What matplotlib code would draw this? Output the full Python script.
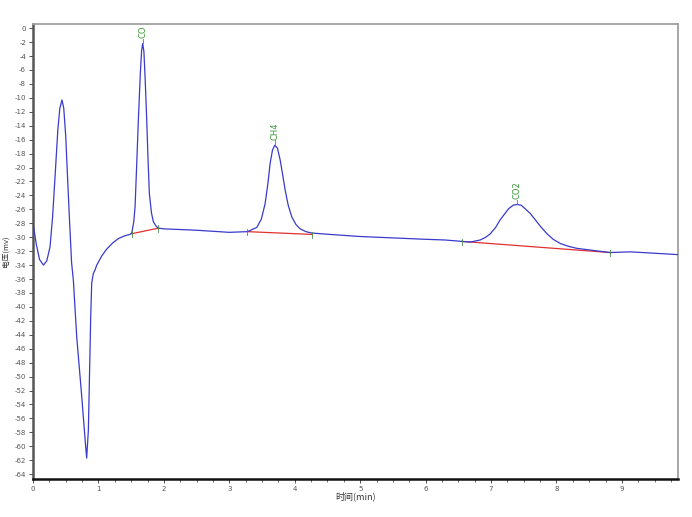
import matplotlib
matplotlib.use("Agg")
import matplotlib.pyplot as plt
from matplotlib.ticker import MultipleLocator

plt.rcParams['font.family'] = ['Noto Sans CJK SC', 'DejaVu Sans']
plt.rcParams['axes.unicode_minus'] = False

# Chromatogram signal (time in min, voltage in mV)
time_min = [0.00, 0.05, 0.10, 0.16, 0.21, 0.26, 0.30, 0.34, 0.38, 0.41, 0.443,
            0.47, 0.50, 0.525, 0.56, 0.59, 0.617, 0.668, 0.745, 0.80, 0.82,
            0.846, 0.882, 0.897, 0.922, 0.948, 0.974, 1.05, 1.127, 1.22,
            1.305, 1.40, 1.483, 1.509, 1.54, 1.56, 1.585, 1.61, 1.64, 1.66,
            1.677, 1.695, 1.715, 1.738, 1.758, 1.778, 1.81, 1.84, 1.88,
            1.916, 2.0, 2.248, 2.5, 3.0, 3.277, 3.42, 3.49, 3.547, 3.59,
            3.624, 3.66, 3.695, 3.735, 3.777, 3.815, 3.853, 3.90, 3.955,
            4.02, 4.083, 4.17, 4.26, 4.54, 5.0, 5.5, 6.0, 6.3, 6.555, 6.68,
            6.835, 6.92, 6.99, 7.07, 7.14, 7.27, 7.34, 7.396, 7.46, 7.52,
            7.60, 7.676, 7.76, 7.855, 7.95, 8.058, 8.18, 8.313, 8.567, 8.82,
            9.13, 9.5, 9.86]
signal_mv = [-28.0, -31.0, -33.2, -34.0, -33.4, -31.4, -27.0, -20.8, -14.5,
             -11.5, -10.3, -11.5, -15.5, -20.8, -28.0, -33.7, -36.2, -44.3,
             -52.9, -59.5, -61.7, -57.7, -41.4, -36.6, -35.2, -34.7, -34.0,
             -32.7, -31.7, -30.8, -30.2, -29.8, -29.6, -29.4, -27.8, -25.6,
             -19.5, -13.2, -6.5, -3.2, -2.2, -3.4, -7.5, -13.2, -18.8, -23.7,
             -26.5, -27.8, -28.4, -28.7, -28.8, -28.9, -29.0, -29.3, -29.2,
             -28.6, -27.4, -25.2, -22.3, -19.4, -17.5, -16.8, -17.2, -18.9,
             -21.0, -23.2, -25.4, -27.1, -28.2, -28.8, -29.2, -29.4, -29.6,
             -29.9, -30.1, -30.3, -30.4, -30.6, -30.7, -30.4, -30.0, -29.5,
             -28.6, -27.5, -25.9, -25.4, -25.3, -25.4, -25.9, -26.6, -27.5,
             -28.5, -29.5, -30.3, -30.9, -31.3, -31.6, -31.9, -32.2, -32.1,
             -32.3, -32.5]

# Integration baselines (start/end) per peak
peak_names = ['CO', 'CH4', 'CO2']
peak_times = [1.677, 3.695, 7.396]
peak_tops = [-2.2, -16.8, -25.3]
base_start_t = [1.509, 3.277, 6.555]
base_start_v = [-29.5, -29.2, -30.6]
base_end_t = [1.916, 4.26, 8.82]
base_end_v = [-28.7, -29.6, -32.2]

x_ticks = list(range(0, 10))
y_ticks = list(range(0, -65, -2))

fig = plt.figure(figsize=(6.92, 5.17), dpi=100)
ax = fig.add_axes([0.0477, 0.0735, 0.9323, 0.8801])

ax.plot(time_min, signal_mv, color='#3a3acc', lw=0.9, zorder=3)
for ts, vs, te, ve in zip(base_start_t, base_start_v, base_end_t, base_end_v):
    ax.plot([ts, te], [vs, ve], color='#e03030', lw=0.9, zorder=2)
    for tt, vv in ((ts, vs), (te, ve)):
        ax.plot([tt, tt], [vv + 0.4, vv - 0.5], color='#4a8a4a', lw=0.6, zorder=4)

for name, tp, vp in zip(peak_names, peak_times, peak_tops):
    ax.plot([tp, tp], [vp, vp + 0.7], color='#3a9a3a', lw=0.6, zorder=4)
    ax.text(tp, vp + 0.8, name, rotation=90, ha='center', va='bottom',
            fontsize=6, color='#3a9a3a', family=['DejaVu Sans'])

ax.set_xlim(0, 9.86)
ax.set_ylim(-64.7, 0.6)
ax.set_xticks(x_ticks)
ax.set_yticks(y_ticks)
ax.xaxis.set_minor_locator(MultipleLocator(0.25))
ax.tick_params(axis='both', which='major', labelsize=5, colors='#333333',
               length=3, width=0.6, direction='out', pad=2)
ax.tick_params(axis='x', which='minor', length=2, width=0.5, colors='#333333')
for lab in ax.get_xticklabels() + ax.get_yticklabels():
    lab.set_family(['DejaVu Sans'])
    lab.set_color('#555555')

ax.spines['top'].set_color('#a0a0a0')
ax.spines['right'].set_color('#a0a0a0')
ax.spines['top'].set_linewidth(1.3)
ax.spines['right'].set_linewidth(1.3)
ax.spines['left'].set_color('#555555')
ax.spines['left'].set_linewidth(1.8)
ax.spines['bottom'].set_color('#111111')
ax.spines['bottom'].set_linewidth(1.8)

ax.set_xlabel('时间(min)', fontsize=6.5, labelpad=0, color='#333333')
ax.set_ylabel('电压(mv)', fontsize=5.5, color='#333333')
ax.yaxis.set_label_coords(-0.036, 0.5)

fig.savefig('out.png', dpi=100)
